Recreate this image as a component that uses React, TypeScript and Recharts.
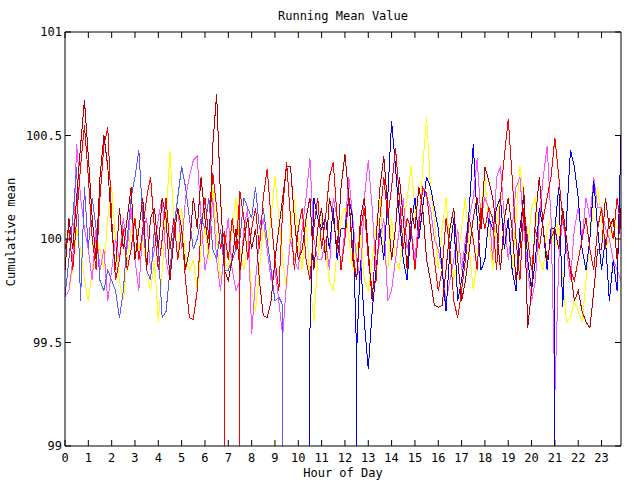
import React from 'react';
import { LineChart, Line, XAxis, YAxis } from 'recharts';

// Time grid: one sample every 10 minutes, hours 0 .. 23.83
const hours: number[] = Array.from({ length: 144 }, (_, i) => i / 6);
const xTicks = [0, 1, 2, 3, 4, 5, 6, 7, 8, 9, 10, 11, 12, 13, 14, 15, 16, 17, 18, 19, 20, 21, 22, 23];
const yTicks = [99, 99.5, 100, 100.5, 101];

const red: number[] = [
  99.95, 100.05, 99.85, 100.1, 100.35, 100.55,
  100.3, 100.0, 99.85, 100.2, 100.45, 100.54,
  100.1, 99.8, 99.9, 100.05, 99.85, 99.95,
  100.1, 99.9, 100.05, 100.2, 100.3, 100.05,
  99.85, 100.0, 100.2, 99.95, 100.1, 99.9,
  100.05, 99.8, 99.62, 99.61, 99.75, 100.05,
  100.2, 100.0, 100.32, 100.15, 99.95, 100.04,
  99.9, 100.1, 99.95, 100.23, 100.1, 99.9,
  100.05, 100.15, 99.95, 100.2, 100.34, 100.1,
  99.9, 99.75, 100.15, 100.37, 100.1, 99.85,
  100.05, 100.15, 99.9, 99.8, 100.05, 100.2,
  99.95, 100.1, 100.3, 100.37, 100.1, 99.85,
  100.0, 100.2, 99.95, 99.8, 100.05, 100.15,
  99.9, 99.75, 99.8, 100.1, 100.3, 100.1,
  100.25, 100.44, 100.2, 99.95, 100.1, 100.05,
  99.85, 100.05, 100.25, 100.22, 100.05, 99.9,
  99.75, 99.85, 100.1, 99.95, 99.7, 99.62,
  99.75, 99.9, 100.1, 100.0, 99.85, 100.15,
  100.05, 100.15, 100.1, 99.85, 100.2, 100.4,
  100.58, 100.3, 100.0, 99.8, 100.15, 100.0,
  99.85, 100.05, 99.95, 100.1, 100.2, 100.3,
  100.49, 100.3, 100.1, 100.0, 99.85, 99.8,
  99.9, 100.0, 100.1, 99.95, 99.85, 100.05,
  100.15, 99.95, 100.1, 100.0, 100.2, 100.05,
];
const redDrops = [41, 45];

const darkRed: number[] = [
  99.85, 100.1, 99.95, 100.2, 100.45, 100.67,
  100.4, 100.1, 99.9, 100.3, 100.5, 100.35,
  100.05, 99.85, 100.15, 99.95, 100.1, 100.25,
  99.9, 100.05, 100.2, 99.85, 100.1, 100.15,
  99.95, 100.2, 100.1, 99.8, 100.0, 100.15,
  100.05, 99.85, 99.95, 100.2, 100.05, 100.3,
  100.1, 99.95, 100.45, 100.7, 100.2, 99.85,
  99.8, 99.9, 100.05, 99.85, 100.0, 100.1,
  99.95, 100.05, 99.8, 99.63, 99.62, 99.7,
  99.9, 100.05, 100.2, 100.35, 100.35, 100.1,
  99.9, 99.95, 100.1, 100.2, 99.85, 100.05,
  100.15, 99.9, 100.2, 100.1, 99.95, 100.25,
  100.41, 100.2, 99.9, 99.8, 100.1, 100.2,
  99.95, 99.7, 100.0, 100.25, 100.4, 100.15,
  99.9, 100.05, 100.3, 100.1, 99.85, 100.15,
  100.05, 100.25, 100.15, 99.9, 99.8, 99.68,
  99.67, 99.68, 99.85, 100.05, 100.15, 99.9,
  99.7, 99.8, 99.95, 100.1, 100.2, 100.05,
  100.35, 100.28, 100.2, 100.05, 99.85, 100.1,
  100.2, 100.05, 99.8, 99.95, 100.25, 99.57,
  99.75, 100.1, 100.3, 100.05, 99.9, 100.0,
  100.05, 99.95, 100.15, 100.0, 99.85, 99.7,
  99.75, 99.65, 99.6, 99.57, 99.75, 99.95,
  99.95, 100.2, 100.05, 100.1, 99.9, 100.15,
];

const magenta: number[] = [
  99.72, 99.75, 99.9, 100.46, 100.2, 100.05,
  99.95, 99.8, 100.05, 99.85, 99.95, 99.7,
  99.85, 100.0, 99.9, 100.1, 99.95, 100.15,
  99.9, 99.75, 100.05, 100.1, 99.85, 99.95,
  100.1, 100.2, 99.9, 99.8, 100.0, 100.15,
  99.95, 100.2, 100.3, 100.38, 100.4, 100.1,
  99.85, 99.95, 100.2, 99.9, 99.75, 99.95,
  100.1, 99.85, 99.75, 99.8, 100.05, 100.15,
  99.54, 99.8, 100.0, 100.1, 99.95, 99.8,
  99.85, 99.7, 99.53, 99.8, 100.0, 99.9,
  99.85, 100.05, 100.2, 100.39, 100.0, 99.9,
  99.9, 100.0, 99.85, 100.2, 100.1, 99.85,
  100.05, 100.3, 100.1, 99.9, 99.8, 100.2,
  100.38, 100.15, 99.85, 100.0, 100.1, 99.7,
  99.75, 99.9, 100.05, 100.2, 99.95, 100.05,
  99.9, 100.1, 100.25, 100.2, 100.15, 100.0,
  99.95, 99.85, 99.7, 99.8, 99.9, 100.05,
  99.85, 100.0, 100.1, 100.2, 100.39, 100.1,
  100.2, 100.15, 99.9, 100.3, 100.35, 100.1,
  99.9, 100.05, 100.25, 100.3, 100.05, 99.85,
  99.7, 99.8, 100.1, 100.3, 100.45, 100.1,
  99.25, 99.9, 100.1, 99.95, 99.8, 100.05,
  100.15, 100.0, 100.2, 100.1, 100.3, 100.15,
  100.15, 100.05, 100.0, 99.9, 99.85, 99.8,
];

const yellow: number[] = [
  99.72, 99.75, 99.85, 100.05, 99.95, 99.8,
  99.7, 99.85, 100.0, 99.95, 99.85, 100.1,
  100.25, 100.0, 99.8, 99.7, 99.9, 100.05,
  100.1, 99.95, 100.0, 99.85, 99.75, 99.9,
  99.6, 99.85, 100.1, 100.42, 100.1, 99.9,
  100.15, 99.9, 99.85, 99.9, 99.75, 99.95,
  100.05, 99.9, 100.25, 100.0, 99.8, 99.9,
  99.85, 100.05, 100.2, 99.95, 99.85, 100.0,
  99.75, 99.65, 99.85, 100.05, 99.95, 100.1,
  100.3, 100.1, 99.9, 99.75, 100.05, 100.2,
  100.0, 99.85, 100.1, 99.8, 99.6, 99.9,
  100.1, 99.95, 99.8, 99.75, 99.95, 100.1,
  100.15, 100.0, 99.85, 99.95, 100.05, 99.8,
  99.75, 99.9, 100.05, 100.2, 99.95, 99.85,
  100.1, 99.9, 99.85, 100.05, 100.2, 100.35,
  100.15, 100.0, 100.35, 100.59, 100.25, 100.1,
  99.85, 100.05, 100.2, 99.95, 99.8, 99.9,
  100.05, 100.2, 99.95, 99.75, 99.9, 100.15,
  100.3, 100.05, 99.85, 100.1, 100.2, 99.95,
  100.05, 99.85, 100.1, 100.35, 100.2, 99.95,
  100.15, 100.2, 99.9, 99.85, 100.05, 100.1,
  99.95, 100.1, 99.8, 99.6, 99.62, 99.7,
  99.65, 99.6, 99.8, 100.0, 100.15, 100.25,
  100.1, 99.95, 100.0, 100.1, 100.05, 100.1,
];

const lightBlue: (number | null)[] = [
  99.72, 99.9, 100.1, 100.35, 99.7, 100.25,
  99.95, 100.2, 100.05, 99.8, 99.75, 99.85,
  99.8, 99.75, 99.62, 99.75, 100.0, 100.2,
  100.3, 100.43, 100.1, 99.85, 99.8, 100.05,
  99.95, 99.62, 99.65, 99.85, 100.05, 100.2,
  100.35, 100.25, 100.1, 99.95, 100.0, 100.1,
  100.05, 100.2, 99.95, 99.9, 100.05, 99.85,
  99.85, 99.9, 99.95, 100.0, 100.2, 100.15,
  100.1, 100.25, 100.05, 100.15, 100.0, 99.85,
  99.7, 99.72, 99.68,
  ...Array(86).fill(null),
  99.54,
];
const lightBlueDrops = [56, 143];

const blue: (number | null)[] = [
  ...Array(63).fill(null),
  99.56, 100.2, 100.1,
  100.05, 100.1, 99.95, 100.15, 99.9, 100.05,
  100.05, 100.2, 100.1, 99.45, 99.9, 99.6,
  99.37, 99.65, 99.85, 100.05, 99.9, 100.2,
  100.57, 100.35, 100.1, 99.9, 99.8, 100.05,
  100.2, 100.0, 100.15, 100.3, 100.25, 100.15,
  100.05, 99.85, 99.65, 99.95, 100.1, 99.7,
  99.8, 99.95, 100.15, 100.46, 100.1, 99.85,
  99.9, 100.1, 100.05, 100.15, 100.2, 99.95,
  100.1, 99.85, 99.75, 100.05, 100.2, 99.9,
  99.75, 99.9, 100.15, 100.05, 99.85, 100.05,
  100.05, 100.25, 99.67, 100.1, 100.43, 100.35,
  100.2, 99.95, 99.85, 100.0, 100.28, 100.05,
  99.85, 100.0, 99.7, 99.9, 99.75, 100.5,
];
const blueDrops = [63, 75, 126, 143];

// value used for the drop-outs that fall below the visible range
const FLOOR = 98;

type Pt = { h: number; v: number | null };
function build(vals: (number | null)[], drops: number[]): Pt[] {
  const out: Pt[] = [];
  vals.forEach((v, i) => {
    out.push({ h: hours[i], v });
    if (v != null && drops.includes(i)) {
      out.push({ h: hours[i], v: FLOOR });
      out.push({ h: hours[i], v });
    }
  });
  return out;
}

const FONT = "'DejaVu Sans Mono', monospace";
const tickStyle = { fontFamily: FONT, fontSize: 12, fill: '#000' };
const X_MAX = 143 / 6;

export default function App() {
  const series = [
    { key: 'yellow', data: build(yellow, []), color: '#ffff00' },
    { key: 'magenta', data: build(magenta, []), color: '#ff50ff' },
    { key: 'blue', data: build(blue, blueDrops), color: '#0000ff' },
    { key: 'lightBlue', data: build(lightBlue, lightBlueDrops), color: '#5858ff' },
    { key: 'red', data: build(red, redDrops), color: '#ff0000' },
    { key: 'darkRed', data: build(darkRed, []), color: '#b40000' },
  ];
  return (
    <div style={{ position: 'absolute', left: 0, top: 0, width: 640, height: 480, background: '#fff' }}>
      <div style={{ position: 'absolute', left: 65, width: 556, top: 8, lineHeight: '16px', textAlign: 'center', fontFamily: FONT, fontSize: 12 }}>
        Running Mean Value
      </div>
      <div style={{ position: 'absolute', left: 65, width: 556, top: 465, lineHeight: '16px', textAlign: 'center', fontFamily: FONT, fontSize: 12 }}>
        Hour of Day
      </div>
      <div style={{ position: 'absolute', left: 11, top: 232, transform: 'translate(-50%, -50%) rotate(-90deg)', whiteSpace: 'nowrap', lineHeight: '16px', fontFamily: FONT, fontSize: 12 }}>
        Cumulative mean
      </div>
      <LineChart width={640} height={480} margin={{ top: 31, right: 18, bottom: 0, left: 0 }}>
        <XAxis
          dataKey="h"
          type="number"
          domain={[0, X_MAX]}
          allowDataOverflow
          ticks={xTicks}
          interval={0}
          height={34}
          tickSize={-6}
          tickMargin={13}
          tick={tickStyle}
          axisLine={{ stroke: '#000' }}
          tickLine={{ stroke: '#000' }}
        />
        <XAxis
          xAxisId="top"
          orientation="top"
          dataKey="h"
          type="number"
          domain={[0, X_MAX]}
          allowDataOverflow
          ticks={xTicks}
          interval={0}
          height={1}
          tickSize={-6}
          tickMargin={0}
          tick={{ fontSize: 1, fill: 'none' }}
          tickFormatter={() => ''}
          axisLine={{ stroke: '#000' }}
          tickLine={{ stroke: '#000' }}
        />
        <YAxis
          type="number"
          domain={[99, 101]}
          allowDataOverflow
          ticks={yTicks}
          interval={0}
          width={65}
          tickSize={-6}
          tickMargin={9}
          tick={tickStyle}
          axisLine={{ stroke: '#000' }}
          tickLine={{ stroke: '#000' }}
        />
        <YAxis
          yAxisId="right"
          orientation="right"
          type="number"
          domain={[99, 101]}
          allowDataOverflow
          ticks={yTicks}
          interval={0}
          width={1}
          tickSize={-6}
          tickMargin={0}
          tick={{ fontSize: 1, fill: 'none' }}
          tickFormatter={() => ''}
          axisLine={{ stroke: '#000' }}
          tickLine={{ stroke: '#000' }}
        />
        {series.map((s) => (
          <Line
            key={s.key}
            data={s.data}
            dataKey="v"
            type="linear"
            stroke={s.color}
            strokeWidth={1}
            dot={false}
            activeDot={false}
            connectNulls={false}
            isAnimationActive={false}
            shapeRendering="crispEdges"
          />
        ))}
      </LineChart>
    </div>
  );
}
